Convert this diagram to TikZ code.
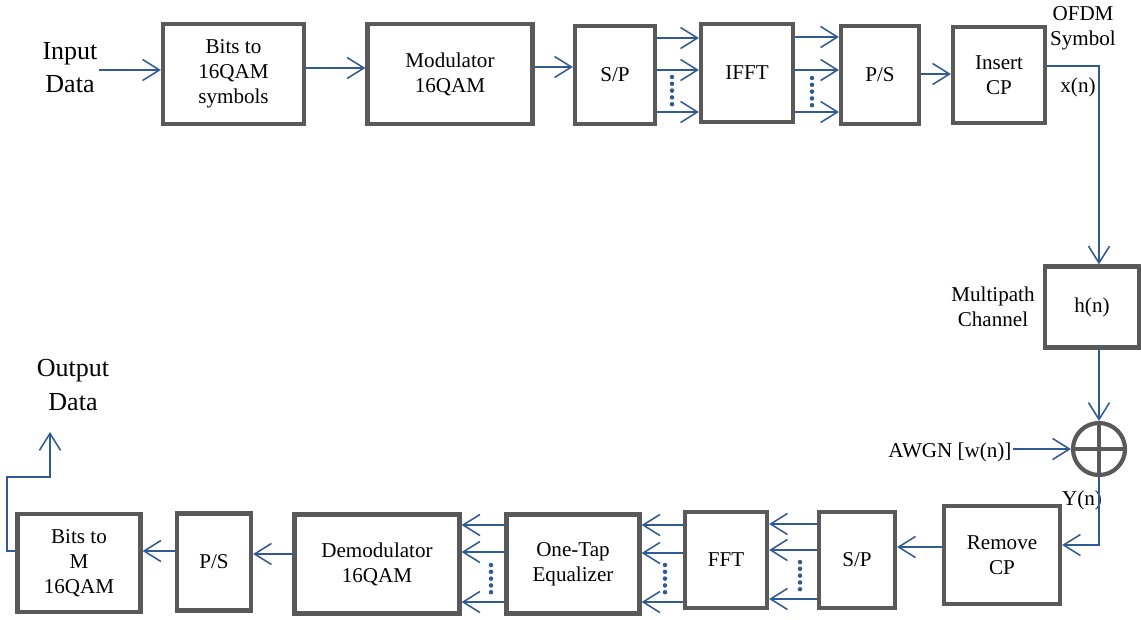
\documentclass[tikz,border=0pt]{standalone}
\usepackage{fontspec}
\setmainfont{Liberation Serif}
\usetikzlibrary{arrows.meta, positioning, calc}
\definecolor{ofdmblue}{HTML}{2F5A96}
\definecolor{ofdmgrey}{HTML}{595959}
\tikzset{
  blk/.style={draw=ofdmgrey, line width=3pt, fill=white, align=center, inner sep=1pt,
    font=\fontsize{15}{17.8}\selectfont},
  sig/.style={draw=ofdmblue, line width=1.1pt, -{Straight Barb[length=12pt, width=15pt]}},
  lbl/.style={align=center, inner sep=1pt, font=\fontsize{15}{17.8}\selectfont},
  biglbl/.style={align=center, inner sep=1pt, font=\fontsize{18.5}{23.5}\selectfont},
}

\begin{document}
\begin{tikzpicture}[x=0.025cm, y=-0.025cm]
\useasboundingbox (0,0) rectangle (1141,619);

% transmitter
\node[biglbl] (indata) at (70,68) {Input\\Data};
\node[blk, minimum width=35.25mm, minimum height=25mm] (bits1) at (233.5,74) {Bits to\\16QAM\\symbols};
\node[blk, minimum width=41.25mm, minimum height=25mm] (mod) at (450,74) {Modulator\\16QAM};
\node[blk, minimum width=20mm, minimum height=24.5mm] (sp1) at (615,75) {S/P};
\node[blk, minimum width=23mm, minimum height=24.5mm] (ifft) at (747,73) {IFFT};
\node[blk, minimum width=19.5mm, minimum height=24.5mm] (ps1) at (880,75) {P/S};
\node[blk, minimum width=23mm, minimum height=24mm] (cp1) at (999,75) {Insert\\CP};
\node[lbl] (ofdm) at (1083,28) {OFDM\\Symbol};
\node[lbl] (xn) at (1078,87) {x(n)};

% channel
\node[blk, minimum width=23.5mm, minimum height=20.25mm] (chan) at (1092,307) {h(n)};
\node[lbl] (mpath) at (993,307) {Multipath\\Channel};
\node[draw=ofdmgrey, line width=3pt, circle, minimum size=13mm, inner sep=0pt] (sum) at (1099,449) {};
\draw[ofdmgrey, line width=3pt] (sum.north) -- (sum.south) (sum.west) -- (sum.east);
\node[lbl] (awgn) at (950,452) {AWGN [w(n)]};
\node[lbl] (yn) at (1082,500) {Y(n)};

% receiver
\node[blk, minimum width=29mm, minimum height=24.5mm] (rcp) at (1002,555) {Remove\\CP};
\node[blk, minimum width=19mm, minimum height=24mm] (sp2) at (857,560) {S/P};
\node[blk, minimum width=20.5mm, minimum height=24mm] (fft) at (726,560) {FFT};
\node[blk, minimum width=33.25mm, minimum height=24.75mm] (eq) at (573,564) {One-Tap\\Equalizer};
\node[blk, minimum width=41.25mm, minimum height=24.75mm] (demod) at (377,564) {Demodulator\\16QAM};
\node[blk, minimum width=18.5mm, minimum height=24.25mm] (ps2) at (214,562) {P/S};
\node[blk, minimum width=30.75mm, minimum height=24.5mm] (bits2) at (79,563) {Bits to\\M\\16QAM};
\node[biglbl] (outdata) at (73,385) {Output\\Data};
\coordinate (out) at (50,432);

% connectors
\draw[sig] (indata.east |- 0,70) -- (bits1.west |- 0,70);
\draw[sig] (bits1.east |- 0,68) -- (mod.west |- 0,68);
\draw[sig] (mod.east |- 0,67) -- (sp1.west |- 0,67);
\foreach \y in {38,70,112}
  \draw[sig] (sp1.east |- 0,\y) -- (ifft.west |- 0,\y);
\foreach \y in {37,70,112}
  \draw[sig] (ifft.east |- 0,\y) -- (ps1.west |- 0,\y);
\draw[sig] (ps1.east |- 0,74) -- (cp1.west |- 0,74);
\draw[sig] (cp1.east |- 0,66) -| (sum.north |- chan.north);
\draw[sig] (sum.north |- chan.south) -- (sum.north);
\draw[sig] (awgn.east |- sum.west) -- (sum.west);
\draw[sig] (sum.south) |- (rcp.east |- 0,545);
\draw[sig] (rcp.west |- 0,547) -- (sp2.east |- 0,547);
\foreach \y in {524,550,599}
  \draw[sig] (sp2.west |- 0,\y) -- (fft.east |- 0,\y);
\foreach \y in {525,553,602}
  \draw[sig] (fft.west |- 0,\y) -- (eq.east |- 0,\y);
\foreach \y in {525,552,602}
  \draw[sig] (eq.west |- 0,\y) -- (demod.east |- 0,\y);
\draw[sig] (demod.west |- 0,554) -- (ps2.east |- 0,554);
\draw[sig] (ps2.west |- 0,551) -- (bits2.east |- 0,551);
\draw[sig] (bits2.west |- 0,551) -- (7,551) |- (out |- 0,477) -- (out);

% dots between parallel lines
\foreach \x/\y in {672/77, 812/78, 800/562, 665/565, 491/565}
  \foreach \k in {0,...,4}
    \fill[ofdmblue] (\x,{\y+\k*6.8}) circle (1.6pt);
\end{tikzpicture}
\end{document}
